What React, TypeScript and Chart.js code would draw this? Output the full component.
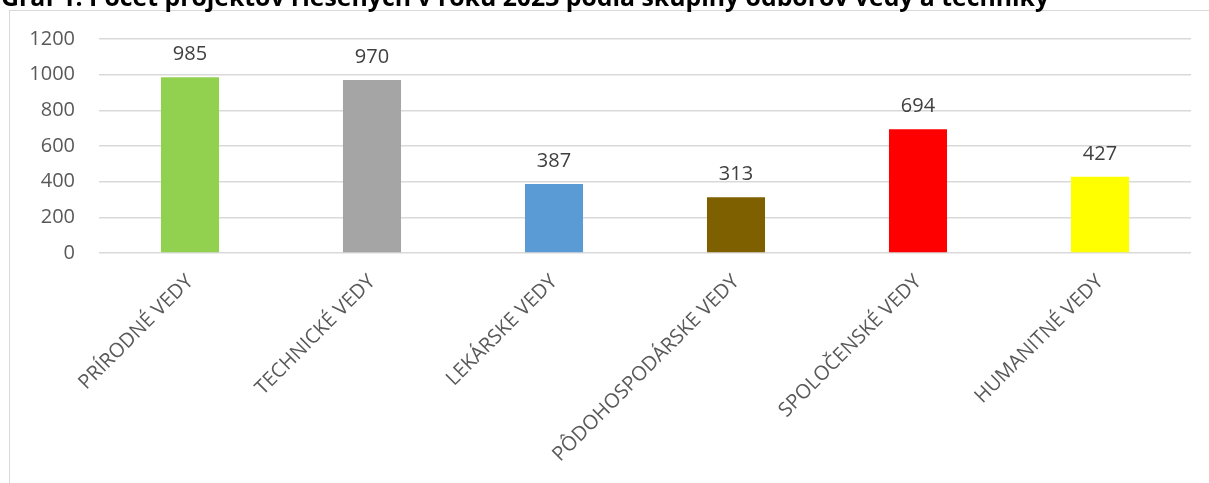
import React, { useEffect, useRef, useLayoutEffect, useState } from "react";
import { Chart, registerables } from "chart.js";

Chart.register(...registerables);

const TITLE = "Graf 1: Počet projektov riešených v roku 2023 podľa skupiny odborov vedy a techniky";
const categories = [
  "PRÍRODNÉ VEDY",
  "TECHNICKÉ VEDY",
  "LEKÁRSKE VEDY",
  "PÔDOHOSPODÁRSKE VEDY",
  "SPOLOČENSKÉ VEDY",
  "HUMANITNÉ VEDY",
];
const values = [985, 970, 387, 313, 694, 427];
const barColors = ["#92D050", "#A5A5A5", "#5B9BD5", "#7F6000", "#FF0000", "#FFFF00"];
const yMin = 0;
const yMax = 1200;
const yStep = 200;

const FONT = "'Open Sans', 'Noto Sans', sans-serif";

const dataLabelPlugin = {
  id: "dataLabels",
  afterDatasetsDraw(chart: any) {
    const ctx = chart.ctx;
    const meta = chart.getDatasetMeta(0);
    ctx.save();
    ctx.font = `20px ${FONT}`;
    ctx.fillStyle = "#404040";
    ctx.textAlign = "center";
    ctx.textBaseline = "alphabetic";
    meta.data.forEach((bar: any, i: number) => {
      ctx.fillText(String(chart.data.datasets[0].data[i]), bar.x, bar.y - 17);
    });
    ctx.restore();
  },
};

export default function App() {
  const canvasRef = useRef<HTMLCanvasElement | null>(null);
  const titleRef = useRef<HTMLSpanElement | null>(null);
  const [titleSize, setTitleSize] = useState(21);

  useLayoutEffect(() => {
    const el = titleRef.current;
    if (!el) return;
    const w = el.getBoundingClientRect().width;
    if (w > 0) {
      const target = 1048;
      const next = Math.round(((titleSize * target) / w) * 10) / 10;
      if (Math.abs(next - titleSize) > 0.2) setTitleSize(next);
    }
  }, [titleSize]);

  useEffect(() => {
    if (!canvasRef.current) return;
    const chart = new Chart(canvasRef.current, {
      type: "bar",
      data: {
        labels: categories,
        datasets: [
          {
            data: values,
            backgroundColor: barColors,
            borderWidth: 0,
            barPercentage: 0.319,
            categoryPercentage: 1,
          },
        ],
      },
      options: {
        responsive: false,
        animation: false,
        devicePixelRatio: 1,
        layout: { padding: { left: 0, right: 18, top: 39, bottom: 0 } },
        plugins: {
          legend: { display: false },
          title: { display: false },
          tooltip: { enabled: false },
        },
        scales: {
          x: {
            grid: { display: false, drawTicks: false },
            border: { display: false },
            ticks: {
              autoSkip: false,
              minRotation: 45,
              maxRotation: 45,
              padding: 17,
              color: "#595959",
              font: { family: FONT, size: 20 },
            },
            afterFit(scale: any) {
              scale.height = 230;
            },
          },
          y: {
            min: yMin,
            max: yMax,
            grid: { color: "#D9D9D9", lineWidth: 1.5, drawTicks: false },
            border: { display: false },
            ticks: {
              stepSize: yStep,
              padding: 24,
              color: "#595959",
              font: { family: FONT, size: 20 },
              callback: (v: any) => String(v),
            },
            afterFit(scale: any) {
              scale.width = 99;
            },
          },
        },
      },
      plugins: [dataLabelPlugin],
    });
    return () => chart.destroy();
  }, []);

  const baselineY = 6;
  return (
    <div
      style={{
        position: "fixed",
        left: 0,
        top: 0,
        width: 1209,
        height: 483,
        overflow: "hidden",
        background: "#ffffff",
      }}
    >
      <div
        style={{
          position: "absolute",
          left: 9,
          top: 10,
          width: 1400,
          height: 700,
          border: "1px solid #D9D9D9",
          boxSizing: "border-box",
        }}
      />
      <canvas
        ref={canvasRef}
        width={1209}
        height={483}
        style={{ position: "absolute", left: 0, top: 0, width: 1209, height: 483 }}
      />
      <div
        style={{
          position: "absolute",
          left: 1,
          top: baselineY - 0.888 * titleSize,
          whiteSpace: "nowrap",
          fontFamily: FONT,
          fontWeight: 700,
          fontSize: titleSize,
          lineHeight: 1,
          color: "#000000",
        }}
      >
        <span ref={titleRef}>{TITLE}</span>
      </div>
    </div>
  );
}
